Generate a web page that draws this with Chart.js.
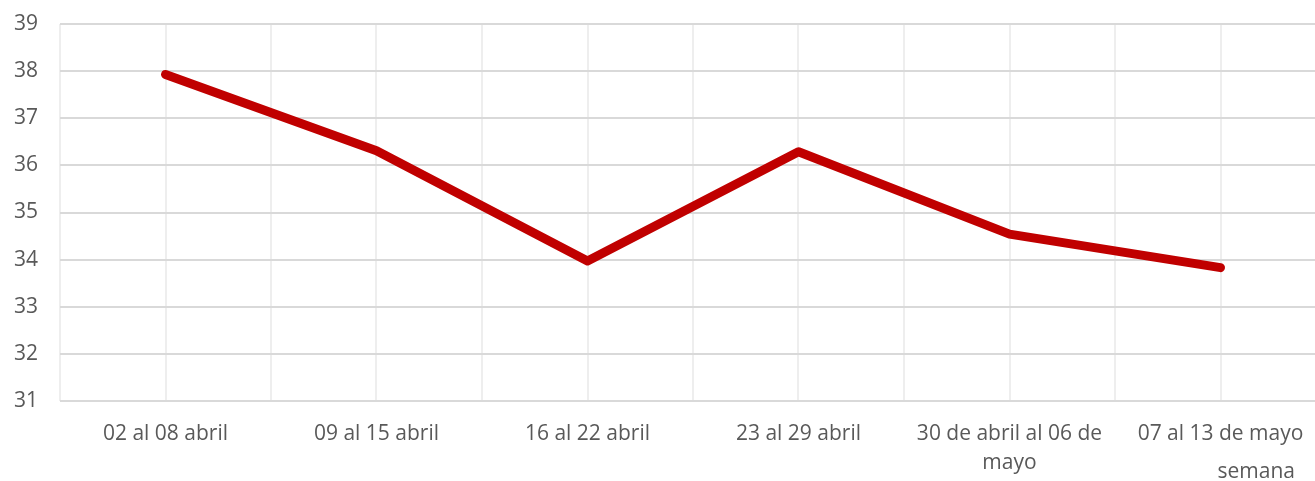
<!DOCTYPE html>
<html>
<head>
<meta charset="utf-8">
<script src="https://cdn.jsdelivr.net/npm/chart.js@4.4.1/dist/chart.umd.min.js"></script>
<style>
  html, body { margin: 0; padding: 0; background: #ffffff; overflow: hidden; }
  #wrap { width: 1315px; height: 481px; position: relative; }
</style>
</head>
<body>
<div id="wrap"><canvas id="c"></canvas></div>
<script>
const categories = [
  "02 al 08 abril",
  "09 al 15 abril",
  "16 al 22 abril",
  "23 al 29 abril",
  ["30 de abril al 06 de", "mayo"],
  "07 al 13 de mayo"
];
const values = [37.93, 36.31, 33.97, 36.29, 34.54, 33.83];
const yTicks = [31, 32, 33, 34, 35, 36, 37, 38, 39];
const axisTitle = "semana";

const FONT = "'Open Sans', 'Noto Sans', sans-serif";
const TEXT = "#595959";

const points = values.map((v, i) => ({ x: i, y: v }));

const axisTitlePlugin = {
  id: 'axisTitleText',
  afterDraw(chart) {
    const ctx = chart.ctx;
    const area = chart.chartArea;
    ctx.save();
    ctx.font = "21px " + FONT;
    ctx.fillStyle = TEXT;
    ctx.textAlign = "right";
    ctx.textBaseline = "middle";
    ctx.fillText(axisTitle, area.right - 20, chart.height - 9);
    ctx.restore();
  }
};

new Chart(document.getElementById('c'), {
  type: 'line',
  data: {
    datasets: [{
      data: points,
      borderColor: '#c00000',
      borderWidth: 9,
      borderCapStyle: 'round',
      borderJoinStyle: 'round',
      pointRadius: 0,
      pointHoverRadius: 0,
      tension: 0,
      fill: false
    }]
  },
  options: {
    responsive: true,
    maintainAspectRatio: false,
    animation: false,
    events: [],
    layout: { padding: { top: 24, right: 0, bottom: 0, left: 0 } },
    plugins: { legend: { display: false }, tooltip: { enabled: false } },
    scales: {
      x: {
        type: 'linear',
        min: -0.5,
        max: -0.5 + (1315 - 60) / 211,
        afterFit: (s) => { s.height = 80; s.paddingLeft = 0; s.paddingRight = 0; },
        afterBuildTicks: (s) => {
          const t = [];
          for (let v = -0.5; v <= s.max + 1e-9; v += 0.5) t.push({ value: v });
          s.ticks = t;
        },
        border: { display: false },
        grid: {
          drawTicks: false,
          lineWidth: 2,
          color: '#eeeeee'
        },
        ticks: {
          autoSkip: false,
          maxRotation: 0,
          minRotation: 0,
          padding: 19,
          color: TEXT,
          font: { family: FONT, size: 21, lineHeight: 1.38 },
          callback: (v) => Number.isInteger(v) && categories[v] !== undefined ? categories[v] : ''
        }
      },
      y: {
        min: 31,
        max: 39,
        afterFit: (s) => { s.width = 60; s.paddingTop = 0; s.paddingBottom = 0; },
        afterBuildTicks: (s) => { s.ticks = yTicks.map(v => ({ value: v })); },
        border: { display: false },
        grid: {
          drawTicks: false,
          lineWidth: 2,
          color: '#d9d9d9'
        },
        ticks: {
          padding: 22,
          color: TEXT,
          font: { family: FONT, size: 21 }
        }
      }
    }
  },
  plugins: [axisTitlePlugin]
});
</script>
</body>
</html>
